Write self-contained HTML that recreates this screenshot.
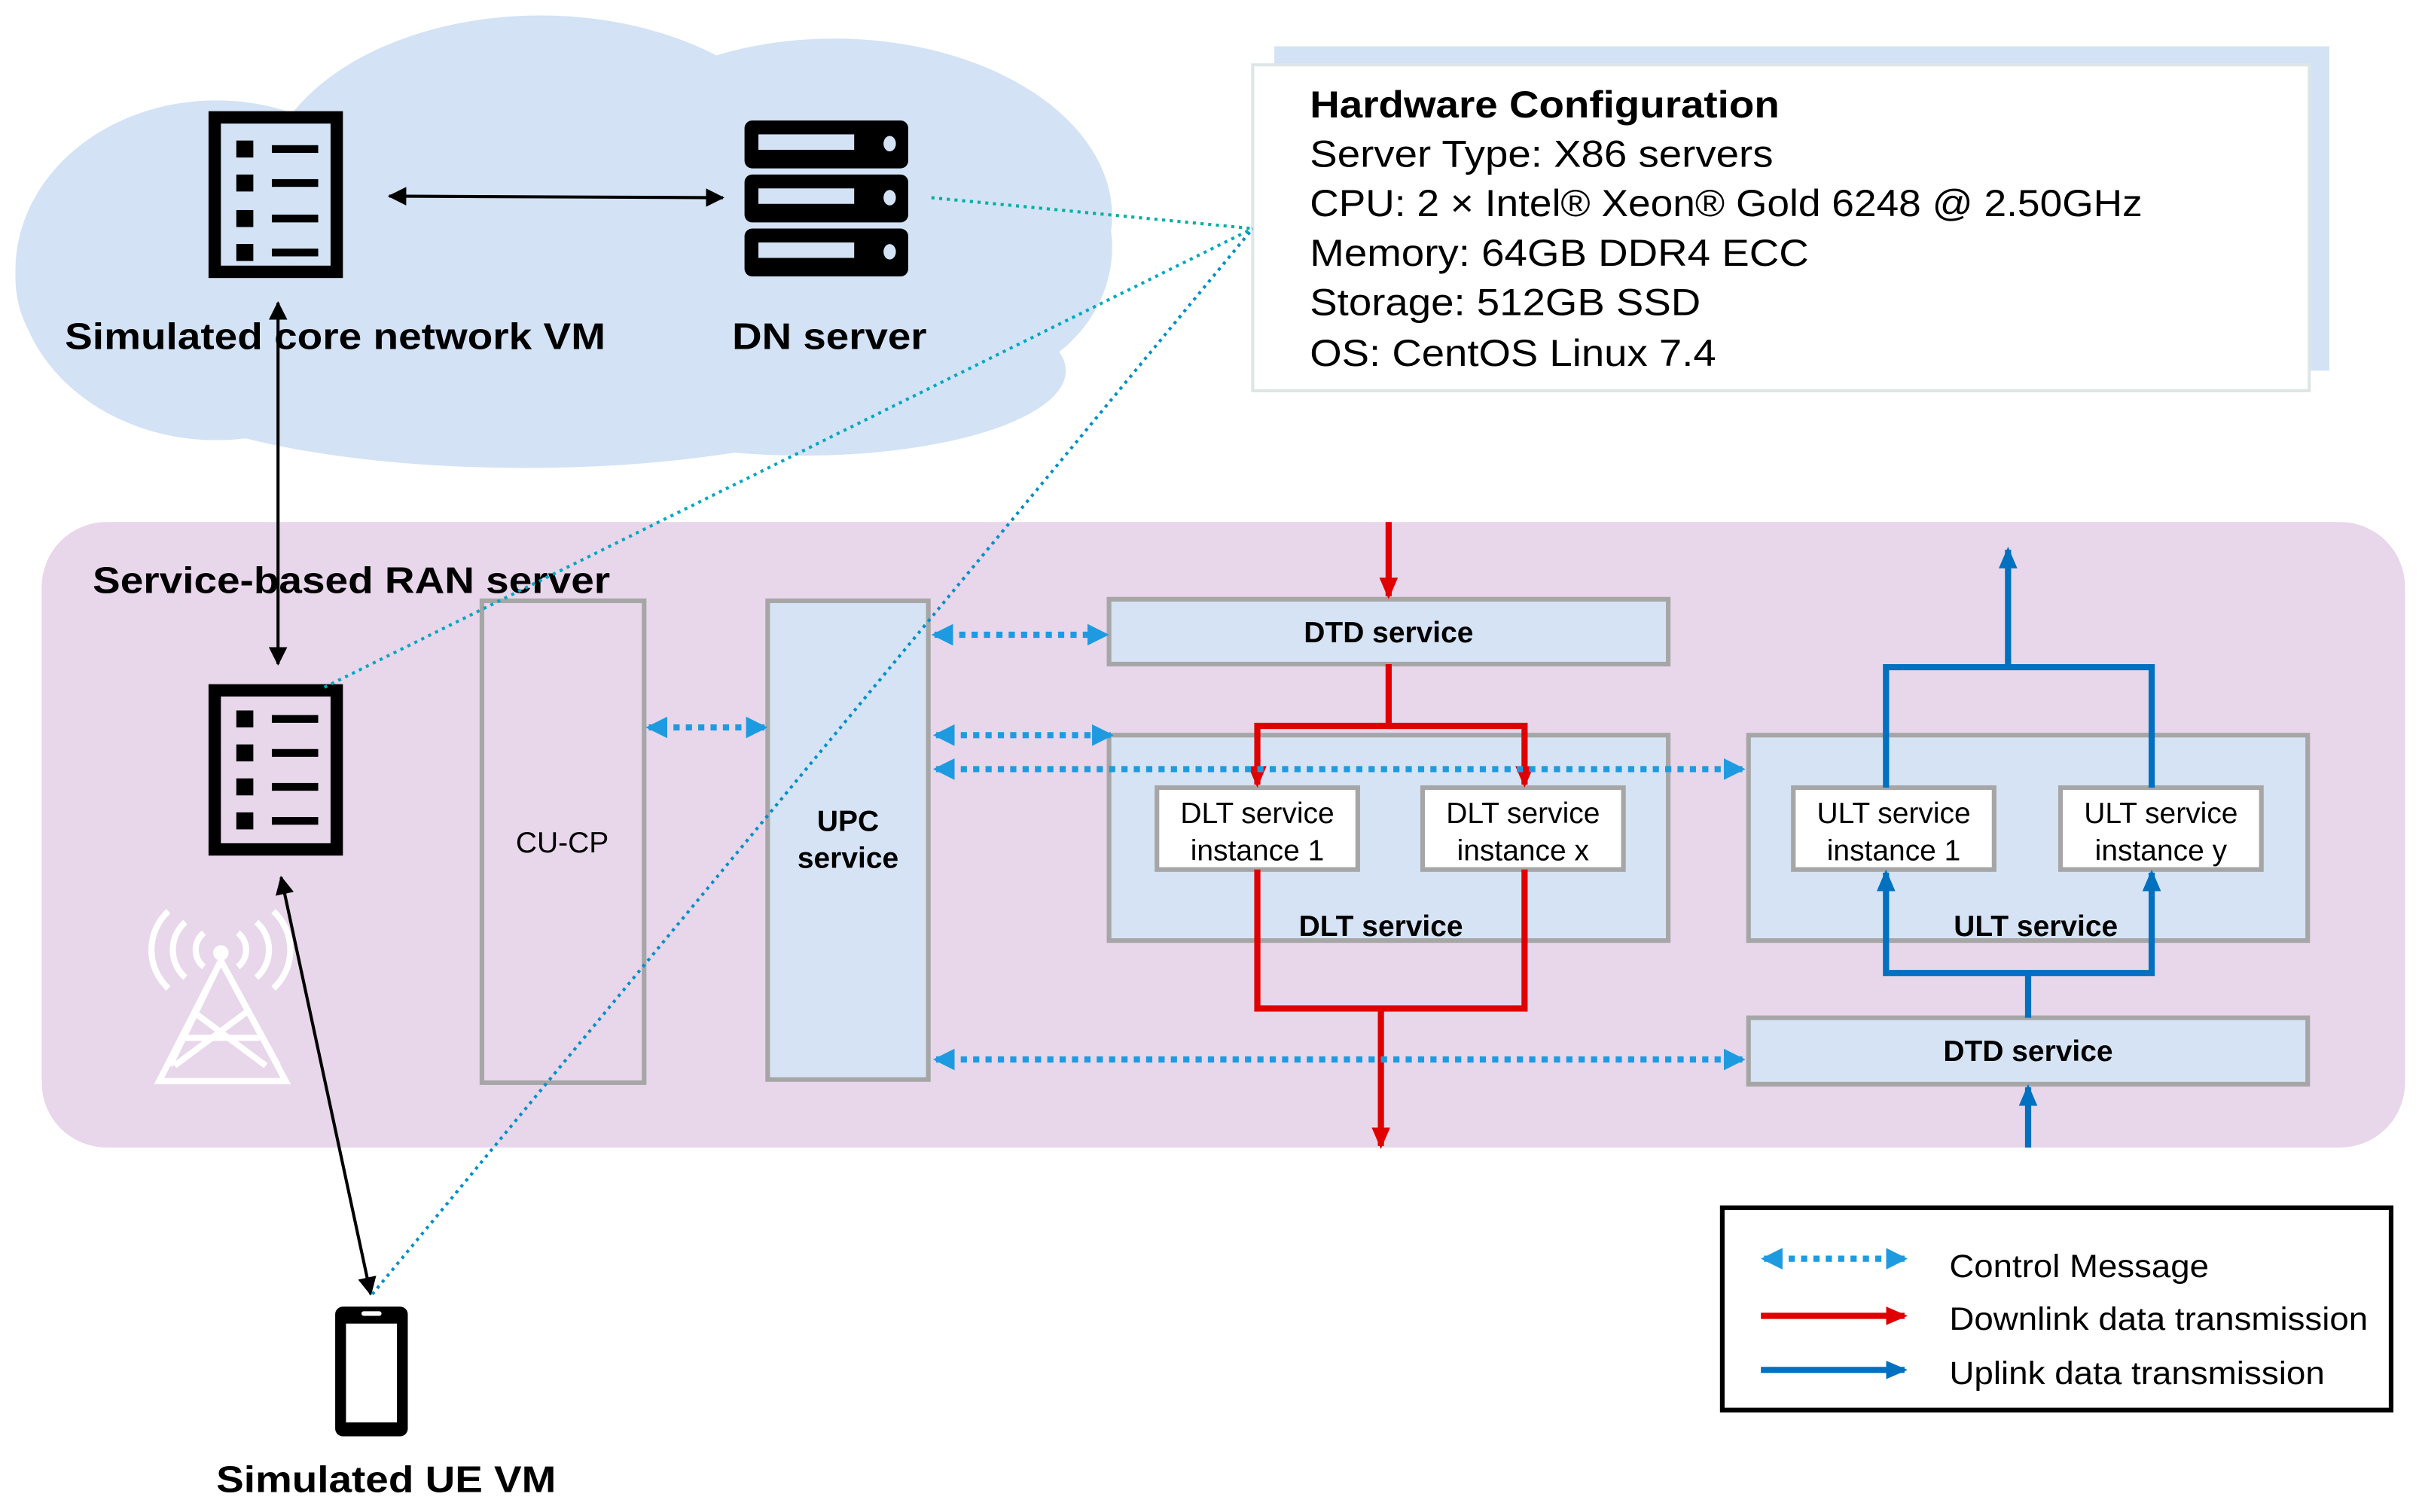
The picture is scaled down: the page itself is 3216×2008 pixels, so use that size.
<!DOCTYPE html>
<html><head><meta charset="utf-8"><style>html,body{margin:0;padding:0;background:#fff}svg{display:block}</style></head>
<body>
<svg width="3216" height="2008" viewBox="0 0 1568 979" preserveAspectRatio="none" xmlns="http://www.w3.org/2000/svg" font-family="Liberation Sans, Arial, sans-serif">
<defs>
<marker id="bk" markerWidth="12" markerHeight="12" refX="11" refY="6" orient="auto-start-reverse" markerUnits="userSpaceOnUse" viewBox="0 0 12 12"><path d="M0,0 L12,6 L0,12 z" fill="#000"/></marker>
<marker id="cb" markerWidth="14" markerHeight="14" refX="12" refY="7" orient="auto-start-reverse" markerUnits="userSpaceOnUse" viewBox="0 0 14 14"><path d="M0,0 L14,7 L0,14 z" fill="#1e9be0"/></marker>
<marker id="rd" markerWidth="14" markerHeight="14" refX="12" refY="7" orient="auto" markerUnits="userSpaceOnUse" viewBox="0 0 14 14"><path d="M0,1 L14,7 L0,13 z" fill="#e00000"/></marker>
<marker id="bl" markerWidth="14" markerHeight="14" refX="12" refY="7" orient="auto" markerUnits="userSpaceOnUse" viewBox="0 0 14 14"><path d="M0,1 L14,7 L0,13 z" fill="#0070c0"/></marker>
</defs>
<!-- cloud -->
<g fill="#d3e2f5">
<ellipse cx="140" cy="175" rx="130" ry="110"/>
<ellipse cx="350" cy="125" rx="180" ry="115"/>
<ellipse cx="540" cy="140" rx="180" ry="115"/>
<ellipse cx="620" cy="160" rx="100" ry="90"/>
<ellipse cx="340" cy="235" rx="260" ry="68"/>
<ellipse cx="520" cy="240" rx="170" ry="55"/>
<ellipse cx="200" cy="215" rx="150" ry="70"/>
<ellipse cx="100" cy="180" rx="90" ry="80"/>
</g>
<!-- hardware box -->
<rect x="825" y="30" width="683" height="210" fill="#d3e2f5"/>
<rect x="811" y="42" width="684" height="211" fill="#fff" stroke="#dde6e6" stroke-width="2"/>
<g font-size="24.5" fill="#000" lengthAdjust="spacingAndGlyphs">
<text x="848" y="76" font-weight="bold" textLength="304" lengthAdjust="spacingAndGlyphs">Hardware Configuration</text>
<text x="848" y="108" textLength="300" lengthAdjust="spacingAndGlyphs">Server Type: X86 servers</text>
<text x="848" y="140" textLength="539" lengthAdjust="spacingAndGlyphs">CPU: 2 × Intel® Xeon® Gold 6248 @ 2.50GHz</text>
<text x="848" y="172" textLength="323" lengthAdjust="spacingAndGlyphs">Memory: 64GB DDR4 ECC</text>
<text x="848" y="204" textLength="253" lengthAdjust="spacingAndGlyphs">Storage: 512GB SSD</text>
<text x="848" y="237" textLength="263" lengthAdjust="spacingAndGlyphs">OS: CentOS Linux 7.4</text>
</g>
<!-- RAN region -->
<rect x="27" y="338" width="1530" height="405" rx="42" fill="#e8d6ea"/>
<text x="60" y="384" font-size="24" font-weight="bold" textLength="335" lengthAdjust="spacingAndGlyphs">Service-based RAN server</text>
<!-- core VM icon -->
<g>
<rect x="139" y="76" width="79" height="100" fill="none" stroke="#000" stroke-width="8"/>
<g fill="#000"><rect x="153" y="91" width="11" height="11"/><rect x="153" y="113" width="11" height="11"/><rect x="153" y="136" width="11" height="11"/><rect x="153" y="158" width="11" height="11"/>
<rect x="176" y="94" width="30" height="5"/><rect x="176" y="116" width="30" height="5"/><rect x="176" y="139" width="30" height="5"/><rect x="176" y="161" width="30" height="5"/></g>
</g>
<!-- RAN VM icon -->
<g>
<rect x="139" y="447" width="79" height="103" fill="none" stroke="#000" stroke-width="8"/>
<g fill="#000"><rect x="153" y="460" width="11" height="11"/><rect x="153" y="482" width="11" height="11"/><rect x="153" y="504" width="11" height="11"/><rect x="153" y="526" width="11" height="11"/>
<rect x="176" y="463" width="30" height="5"/><rect x="176" y="485" width="30" height="5"/><rect x="176" y="507" width="30" height="5"/><rect x="176" y="529" width="30" height="5"/></g>
</g>
<!-- DN server -->
<g fill="#000">
<rect x="482" y="78" width="106" height="31" rx="5"/><rect x="482" y="113" width="106" height="31" rx="5"/><rect x="482" y="148" width="106" height="31" rx="5"/>
</g>
<g fill="#d3e2f5">
<rect x="491" y="87" width="62" height="10"/><rect x="491" y="122" width="62" height="10"/><rect x="491" y="157" width="62" height="10"/>
<ellipse cx="576" cy="93" rx="4" ry="5"/><ellipse cx="576" cy="128" rx="4" ry="5"/><ellipse cx="576" cy="163" rx="4" ry="5"/>
</g>
<text x="42" y="226" font-size="24" font-weight="bold" textLength="350" lengthAdjust="spacingAndGlyphs">Simulated core network VM</text>
<text x="474" y="226" font-size="24" font-weight="bold" textLength="126" lengthAdjust="spacingAndGlyphs">DN server</text>
<!-- black arrows -->
<line x1="252" y1="127" x2="468" y2="128" stroke="#000" stroke-width="2" marker-start="url(#bk)" marker-end="url(#bk)"/>
<line x1="180" y1="196" x2="180" y2="430" stroke="#000" stroke-width="2" marker-start="url(#bk)" marker-end="url(#bk)"/>
<line x1="182" y1="568" x2="240" y2="838" stroke="#000" stroke-width="2" marker-start="url(#bk)" marker-end="url(#bk)"/>
<!-- tower -->
<g fill="none" stroke="#fff" stroke-width="4">
<path d="M143,622 L103,700 L185,700 Z M143,622 L180,690 M143,622 L110,690 M118,672 L168,672 M125,655 L172,690 M160,655 L113,690"/>
<path d="M132,604 a14,14 0 0 0 0,22"/><path d="M154,604 a14,14 0 0 1 0,22"/>
<path d="M120,597 a24,24 0 0 0 0,36"/><path d="M166,597 a24,24 0 0 1 0,36"/>
<path d="M109,590 a34,34 0 0 0 0,50"/><path d="M177,590 a34,34 0 0 1 0,50"/>
</g>
<circle cx="143" cy="617" r="5" fill="#fff"/>
<!-- phone -->
<rect x="217" y="846" width="47" height="84" rx="5" fill="#000"/>
<rect x="224" y="857" width="33" height="64" fill="#fff"/>
<rect x="234" y="849" width="13" height="3" rx="1.5" fill="#fff"/>
<text x="140" y="966" font-size="24" font-weight="bold" textLength="220" lengthAdjust="spacingAndGlyphs">Simulated UE VM</text>
<!-- CU-CP / UPC -->
<rect x="312" y="389" width="105" height="312" fill="none" stroke="#a6a6a6" stroke-width="3"/>
<text x="364" y="552" font-size="19" text-anchor="middle">CU-CP</text>
<rect x="497" y="389" width="104" height="310" fill="#d6e3f4" stroke="#a6a6a6" stroke-width="3"/>
<text x="549" y="538" font-size="19" font-weight="bold" text-anchor="middle">UPC</text>
<text x="549" y="562" font-size="19" font-weight="bold" text-anchor="middle">service</text>
<!-- services -->
<g stroke="#a6a6a6" stroke-width="3" fill="#d6e3f4">
<rect x="718" y="388" width="362" height="42"/>
<rect x="718" y="476" width="362" height="133"/>
<rect x="1132" y="476" width="362" height="133"/>
<rect x="1132" y="659" width="362" height="43"/>
</g>
<g stroke="#a6a6a6" stroke-width="3" fill="#fff">
<rect x="749" y="510" width="130" height="53"/><rect x="921" y="510" width="130" height="53"/>
<rect x="1161" y="510" width="130" height="53"/><rect x="1334" y="510" width="130" height="53"/>
</g>
<g font-size="19" text-anchor="middle">
<text x="899" y="416" font-weight="bold">DTD service</text>
<text x="894" y="606" font-weight="bold">DLT service</text>
<text x="1318" y="606" font-weight="bold">ULT service</text>
<text x="1313" y="687" font-weight="bold">DTD service</text>
<text x="814" y="533">DLT service</text><text x="814" y="557">instance 1</text>
<text x="986" y="533">DLT service</text><text x="986" y="557">instance x</text>
<text x="1226" y="533">ULT service</text><text x="1226" y="557">instance 1</text>
<text x="1399" y="533">ULT service</text><text x="1399" y="557">instance y</text>
</g>
<!-- red -->
<g stroke="#e00000" stroke-width="4" fill="none">
<line x1="899" y1="338" x2="899" y2="386" marker-end="url(#rd)"/>
<polyline points="899,430 899,470 814,470 814,508" marker-end="url(#rd)"/>
<polyline points="899,470 987,470 987,508" marker-end="url(#rd)"/>
<polyline points="814,563 814,653 987,653 987,563"/>
<line x1="894" y1="653" x2="894" y2="742" marker-end="url(#rd)"/>
</g>
<!-- blue -->
<g stroke="#0070c0" stroke-width="4" fill="none">
<line x1="1313" y1="743" x2="1313" y2="704" marker-end="url(#bl)"/>
<polyline points="1313,659 1313,630 1221,630 1221,565" marker-end="url(#bl)"/>
<polyline points="1313,630 1393,630 1393,565" marker-end="url(#bl)"/>
<polyline points="1221,510 1221,432 1393,432 1393,510"/>
<line x1="1300" y1="432" x2="1300" y2="356" marker-end="url(#bl)"/>
</g>
<!-- control dotted -->
<g stroke="#1e9be0" stroke-width="4" stroke-dasharray="4 4" fill="none">
<line x1="605" y1="411" x2="716" y2="411" marker-start="url(#cb)" marker-end="url(#cb)"/>
<line x1="420" y1="471" x2="495" y2="471" marker-start="url(#cb)" marker-end="url(#cb)"/>
<line x1="606" y1="476" x2="719" y2="476" marker-start="url(#cb)" marker-end="url(#cb)"/>
<line x1="606" y1="498" x2="1128" y2="498" marker-start="url(#cb)" marker-end="url(#cb)"/>
<line x1="606" y1="686" x2="1128" y2="686" marker-start="url(#cb)" marker-end="url(#cb)"/>
</g>
<!-- teal dotted config lines -->
<g stroke-width="2" stroke-dasharray="2 3" fill="none">
<line x1="603" y1="128" x2="811" y2="148" stroke="#00b0a0"/>
<line x1="210" y1="445" x2="811" y2="148" stroke="#00a8c0"/>
<line x1="241" y1="838" x2="811" y2="148" stroke="#0090c8"/>
</g>
<!-- legend -->
<rect x="1115" y="782" width="433" height="131" fill="#fff" stroke="#000" stroke-width="3"/>
<line x1="1142" y1="815" x2="1233" y2="815" stroke="#1e9be0" stroke-width="4" stroke-dasharray="4 4" marker-start="url(#cb)" marker-end="url(#cb)"/>
<line x1="1140" y1="852" x2="1233" y2="852" stroke="#e00000" stroke-width="4" marker-end="url(#rd)"/>
<line x1="1140" y1="887" x2="1233" y2="887" stroke="#0070c0" stroke-width="4" marker-end="url(#bl)"/>
<g font-size="21">
<text x="1262" y="827" textLength="168" lengthAdjust="spacingAndGlyphs">Control Message</text>
<text x="1262" y="861" textLength="271" lengthAdjust="spacingAndGlyphs">Downlink data transmission</text>
<text x="1262" y="896" textLength="243" lengthAdjust="spacingAndGlyphs">Uplink data transmission</text>
</g>
</svg>
</body></html>
